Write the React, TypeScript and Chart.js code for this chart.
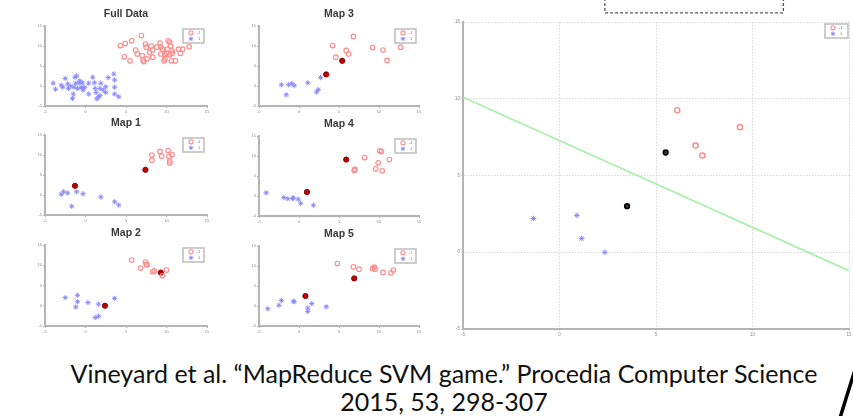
import React, { useEffect, useRef } from 'react';
import { Chart, registerables } from 'chart.js';

Chart.register(...registerables);

type Pt = [number, number];

// ---------- data ----------
const AXIS_MIN = -5;
const AXIS_MAX = 15;
const AXIS_STEP = 5;
const LEGEND_LABELS = ['-1', '1'];

const fullNeg: Pt[] = [
  [4.3, 10.1], [4.9, 10.6], [5.7, 11.3], [6.9, 12.6], [6.2, 9.0], [6.4, 8.0], [7.5, 9.7], [7.4, 10.5],
  [8.1, 10.0], [8.3, 9.0], [7.9, 8.4], [7.0, 7.6], [7.6, 6.8], [8.3, 7.2], [4.8, 7.3], [5.5, 6.3],
  [7.1, 6.5], [7.2, 6.1], [9.2, 10.7], [9.5, 9.2], [9.3, 8.0], [9.8, 6.8], [10.2, 11.3], [10.4, 11.0],
  [10.5, 10.0], [10.1, 9.2], [10.0, 8.2], [10.7, 8.8], [10.7, 8.2], [11.1, 6.3], [10.6, 6.3], [11.5, 9.2],
  [12.0, 9.2], [12.8, 9.8], [11.7, 8.2], [9.3, 9.8], [8.8, 9.7], [9.8, 7.8], [10.4, 7.8], [9.7, 6.3],
];
const fullPos: Pt[] = [
  [-4.0, 0.7], [-3.7, -0.8], [-3.0, 0.2], [-2.5, 1.9], [-2.2, 0.5], [-2.1, -0.6], [-1.6, -3.1], [-1.5, -2.0],
  [-1.3, 2.2], [-1.1, 2.5], [-1.2, 0.7], [-1.0, -0.6], [-0.8, 0.7], [-0.7, 1.3], [-0.5, -0.4], [-0.4, 0.8],
  [-0.3, -1.0], [0.4, 0.7], [0.4, -2.0], [0.9, 2.2], [1.1, 0.8], [1.2, -0.6], [1.3, -1.6], [1.4, -3.2],
  [1.6, -2.7], [1.8, -2.4], [1.9, 0.7], [1.8, -0.6], [2.2, -1.0], [2.5, -0.2], [2.5, -1.6], [2.8, 2.1],
  [3.5, 3.0], [3.6, 1.5], [3.6, -0.3], [3.6, -2.0], [4.1, -2.7], [-1.8, 0.0], [-1.4, -0.3], [-2.8, -0.3],
  [-0.1, -0.3],
];

const map1Neg: Pt[] = [[8.2, 10.0], [8.2, 8.7], [9.2, 10.9], [9.4, 9.7], [10.2, 11.1], [10.3, 9.6], [10.7, 10.1], [10.4, 8.5], [10.4, 8.0]];
const map1Pos: Pt[] = [[-3.0, 0.2], [-2.7, 0.8], [-2.2, 0.5], [-1.1, 0.8], [-0.3, 0.3], [1.9, -0.5], [3.6, -1.7], [4.1, -2.5], [-1.7, -2.8]];
const map1Sv: Pt[] = [[7.4, 6.3], [-1.3, 2.3]];

const map2Neg: Pt[] = [[5.7, 11.3], [6.8, 9.3], [7.4, 10.8], [7.6, 10.1], [7.5, 10.2], [8.3, 8.4], [8.5, 8.6], [9.5, 7.4], [10.0, 8.8]];
const map2Pos: Pt[] = [[-2.5, 2.0], [-1.0, 2.6], [-1.0, 1.0], [-1.2, -0.3], [0.3, 0.8], [1.6, 0.4], [1.2, -2.9], [1.6, -2.6], [3.6, 1.8]];
const map2Sv: Pt[] = [[9.3, 8.2], [2.4, 0.0]];

const map3Neg: Pt[] = [[4.2, 10.1], [4.6, 7.2], [5.9, 8.9], [6.2, 8.0], [6.8, 12.4], [9.2, 9.6], [10.5, 9.0], [11.0, 6.4], [12.7, 9.7]];
const map3Pos: Pt[] = [[-2.2, 0.3], [-1.6, -2.2], [-1.3, 0.3], [-0.9, 0.6], [-0.6, 0.1], [1.1, 0.8], [2.2, -1.5], [2.4, -0.9], [2.7, 2.1]];
const map3Sv: Pt[] = [[5.4, 6.3], [3.4, 2.9]];

const map4Neg: Pt[] = [[8.2, 9.6], [7.0, 6.7], [6.9, 6.4], [9.6, 6.8], [9.9, 8.3], [10.1, 11.3], [10.3, 11.1], [10.4, 6.3], [11.3, 9.1]];
const map4Pos: Pt[] = [[-4.1, 0.8], [-1.9, -0.4], [-1.4, -0.7], [-0.8, -0.6], [-0.7, -0.5], [-0.1, -0.8], [0.2, -1.8], [1.8, -2.3]];
const map4Sv: Pt[] = [[5.9, 9.1], [1.0, 1.0]];

const map5Neg: Pt[] = [[4.8, 10.6], [6.8, 9.8], [7.5, 9.2], [9.2, 9.4], [9.4, 9.7], [9.5, 9.2], [10.5, 8.4], [11.5, 8.3], [11.8, 9.0]];
const map5Pos: Pt[] = [[-3.9, -0.7], [-2.5, 0.2], [-2.2, 1.4], [-0.7, 1.2], [-0.6, 1.1], [1.1, -0.5], [1.1, -1.4], [1.6, 0.6], [3.4, -0.2]];
const map5Sv: Pt[] = [[6.9, 6.9], [0.8, 2.5]];

const bigNeg: Pt[] = [[6.1, 9.25], [9.35, 8.15], [7.05, 6.95], [7.4, 6.3]];
const bigPos: Pt[] = [[-1.35, 2.2], [0.9, 2.4], [1.15, 0.9], [2.35, 0.0]];
const bigSv: Pt[] = [[5.5, 6.5], [3.5, 3.0]];
const boundaryX = [-5, 15];
const boundaryY = [10.1, -1.2];
const dashedBoxX = [2.35, 11.6];
const dashedBoxY = 15.6;

const captionLine1 = 'Vineyard et al. \u201CMapReduce SVM game.\u201D Procedia Computer Science';
const captionLine2 = '2015, 53, 298-307';

// ---------- layout ----------
type Box = { left: number; top: number; width: number; height: number };

const NEG_COLOR = '#ff8a8a';
const POS_COLOR = '#8a8aff';

function drawStar(ctx: CanvasRenderingContext2D, x: number, y: number, r: number) {
  ctx.beginPath();
  ctx.moveTo(x - r, y); ctx.lineTo(x + r, y);
  ctx.moveTo(x, y - r); ctx.lineTo(x, y + r);
  const d = r * 0.7;
  ctx.moveTo(x - d, y - d); ctx.lineTo(x + d, y + d);
  ctx.moveTo(x - d, y + d); ctx.lineTo(x + d, y - d);
  ctx.stroke();
}

type PanelProps = {
  box: Box;
  title?: string;
  neg: Pt[];
  pos: Pt[];
  sv?: Pt[];
  big?: boolean;
};

function Panel({ box, title, neg, pos, sv, big }: PanelProps) {
  const ref = useRef<HTMLCanvasElement>(null);
  const padL = 12;
  const padR = 6;
  const padT = big ? box.top : 24;
  const padB = 12;
  const cw = box.width + padL + padR;
  const ch = box.height + padT + padB;

  useEffect(() => {
    if (!ref.current) return;
    const toXY = (p: Pt[]) => p.map(([x, y]) => ({ x, y }));
    const datasets: any[] = [];
    if (big) {
      datasets.push({
        label: 'boundary',
        data: boundaryX.map((x, i) => ({ x, y: boundaryY[i] })),
        showLine: true,
        borderColor: '#a4f0a4',
        borderWidth: 1.6,
        pointRadius: 0,
        order: 5,
      });
    }
    datasets.push({
      label: LEGEND_LABELS[0],
      data: toXY(neg),
      pointStyle: 'circle',
      pointRadius: big ? 2.6 : 2.3,
      borderColor: NEG_COLOR,
      backgroundColor: 'rgba(0,0,0,0)',
      pointBorderWidth: big ? 1.4 : 1.1,
    });
    datasets.push({
      label: LEGEND_LABELS[1],
      data: toXY(pos),
      pointStyle: 'star',
      pointRadius: big ? 2.8 : 2.6,
      borderColor: POS_COLOR,
      backgroundColor: POS_COLOR,
      pointBorderWidth: 1,
    });
    if (sv && sv.length) {
      datasets.push({
        label: 'sv',
        data: toXY(sv),
        pointStyle: 'circle',
        pointRadius: big ? 2.4 : 2.6,
        borderColor: big ? '#000' : '#7a0000',
        backgroundColor: big ? '#1d401d' : '#c40000',
        pointBorderWidth: big ? 1.5 : 1,
      });
    }

    const gridCommon = big
      ? { display: true, drawOnChartArea: true, drawTicks: true, tickLength: 2, color: '#d9d9d9', lineWidth: 1 }
      : { display: true, drawOnChartArea: false, drawTicks: true, tickLength: 2, color: '#b0b0b0', lineWidth: 1 };
    const border = big
      ? { display: true, color: '#b5b5b5', width: 2, dash: [1.5, 1.5] }
      : { display: true, color: '#b5b5b5', width: 2 };
    const tickFont = { size: big ? 4.5 : 4, family: 'Liberation Sans' };

    const titlePlugin = {
      id: 'panelTitle',
      afterDraw(chart: any) {
        if (!title) return;
        const { ctx, chartArea } = chart;
        ctx.save();
        ctx.font = 'bold 10.5px "Liberation Sans", sans-serif';
        ctx.fillStyle = '#3a3a3a';
        ctx.textAlign = 'center';
        ctx.textBaseline = 'middle';
        ctx.fillText(title, (chartArea.left + chartArea.right) / 2, chartArea.top - 12);
        ctx.restore();
      },
    };

    const legendPlugin = {
      id: 'boxLegend',
      afterDraw(chart: any) {
        const { ctx, chartArea } = chart;
        const w = big ? 23 : 21;
        const h = 14;
        const right = chartArea.right - (big ? 1 : 3);
        const top = chartArea.top + (big ? 2 : 3);
        const left = right - w;
        ctx.save();
        ctx.fillStyle = '#fff';
        ctx.fillRect(left, top, w, h);
        ctx.strokeStyle = '#bdbdbd';
        ctx.lineWidth = 1.5;
        ctx.strokeRect(left, top, w, h);
        const mx = left + 8;
        const ty1 = top + 3.8;
        const ty2 = top + 9.8;
        ctx.strokeStyle = NEG_COLOR;
        ctx.lineWidth = 1.1;
        ctx.beginPath();
        ctx.arc(mx, ty1, 2.1, 0, Math.PI * 2);
        ctx.stroke();
        ctx.strokeStyle = POS_COLOR;
        ctx.lineWidth = 1;
        drawStar(ctx, mx, ty2, 2.2);
        ctx.fillStyle = '#777';
        ctx.font = '4px "Liberation Sans", sans-serif';
        ctx.textAlign = 'left';
        ctx.textBaseline = 'middle';
        ctx.fillText(LEGEND_LABELS[0], left + 14, ty1);
        ctx.fillText(LEGEND_LABELS[1], left + 15, ty2);
        ctx.restore();
      },
    };

    const dashedPlugin = {
      id: 'dashedBox',
      afterDraw(chart: any) {
        if (!big) return;
        const { ctx, scales } = chart;
        const x1 = scales.x.getPixelForValue(dashedBoxX[0]);
        const x2 = scales.x.getPixelForValue(dashedBoxX[1]);
        const yb = scales.y.getPixelForValue(dashedBoxY);
        ctx.save();
        ctx.strokeStyle = '#555';
        ctx.lineWidth = 1.3;
        ctx.setLineDash([3, 2]);
        ctx.beginPath();
        ctx.moveTo(x1, -2);
        ctx.lineTo(x1, yb);
        ctx.lineTo(x2, yb);
        ctx.lineTo(x2, -2);
        ctx.stroke();
        ctx.restore();
      },
    };

    const chart = new Chart(ref.current, {
      type: 'scatter',
      data: { datasets },
      options: {
        responsive: false,
        animation: false,
        events: [],
        layout: { padding: { top: padT, right: padR, left: 0, bottom: 0 } },
        plugins: { legend: { display: false }, tooltip: { enabled: false }, title: { display: false } },
        scales: {
          x: {
            type: 'linear',
            min: AXIS_MIN,
            max: AXIS_MAX,
            afterFit: (s: any) => { s.height = padB; },
            ticks: { stepSize: AXIS_STEP, font: tickFont, color: '#8a8a8a', padding: 1, maxRotation: 0, autoSkip: false },
            grid: gridCommon as any,
            border: border as any,
          },
          y: {
            type: 'linear',
            min: AXIS_MIN,
            max: AXIS_MAX,
            afterFit: (s: any) => { s.width = padL; },
            ticks: { stepSize: AXIS_STEP, font: tickFont, color: '#8a8a8a', padding: 1, autoSkip: false },
            grid: gridCommon as any,
            border: border as any,
          },
        },
      } as any,
      plugins: [titlePlugin, legendPlugin, dashedPlugin],
    });
    return () => chart.destroy();
  }, []);

  return (
    <canvas
      ref={ref}
      width={cw}
      height={ch}
      style={{ position: 'absolute', left: box.left - padL, top: box.top - padT, width: cw, height: ch }}
    />
  );
}

const panels: PanelProps[] = [
  { box: { left: 45, top: 26, width: 162, height: 80 }, title: 'Full Data', neg: fullNeg, pos: fullPos },
  { box: { left: 259, top: 26, width: 160, height: 80 }, title: 'Map 3', neg: map3Neg, pos: map3Pos, sv: map3Sv },
  { box: { left: 45, top: 135, width: 162, height: 80 }, title: 'Map 1', neg: map1Neg, pos: map1Pos, sv: map1Sv },
  { box: { left: 259, top: 136, width: 160, height: 80 }, title: 'Map 4', neg: map4Neg, pos: map4Pos, sv: map4Sv },
  { box: { left: 45, top: 245, width: 162, height: 81 }, title: 'Map 2', neg: map2Neg, pos: map2Pos, sv: map2Sv },
  { box: { left: 259, top: 246, width: 160, height: 80 }, title: 'Map 5', neg: map5Neg, pos: map5Pos, sv: map5Sv },
  { box: { left: 463, top: 22, width: 386, height: 307 }, neg: bigNeg, pos: bigPos, sv: bigSv, big: true },
];

export default function App() {
  const captionStyle: React.CSSProperties = {
    position: 'absolute',
    left: 44,
    width: 800,
    textAlign: 'center',
    fontFamily: 'Lato, "Liberation Sans", sans-serif',
    fontSize: 25,
    lineHeight: '28px',
    color: '#111',
    whiteSpace: 'nowrap',
  };
  return (
    <div style={{ position: 'fixed', left: 0, top: 0, width: 853, height: 416, background: '#fff', overflow: 'hidden' }}>
      {panels.map((p, i) => (
        <Panel key={i} {...p} />
      ))}
      <div style={{ ...captionStyle, top: 359 }}>{captionLine1}</div>
      <div style={{ ...captionStyle, top: 387 }}>{captionLine2}</div>
      <svg width={853} height={416} style={{ position: 'absolute', left: 0, top: 0, pointerEvents: 'none' }}>
        <path d="M 855 370 Q 848 392 840 418" stroke="#000" strokeWidth={3.5} fill="none" />
      </svg>
    </div>
  );
}
